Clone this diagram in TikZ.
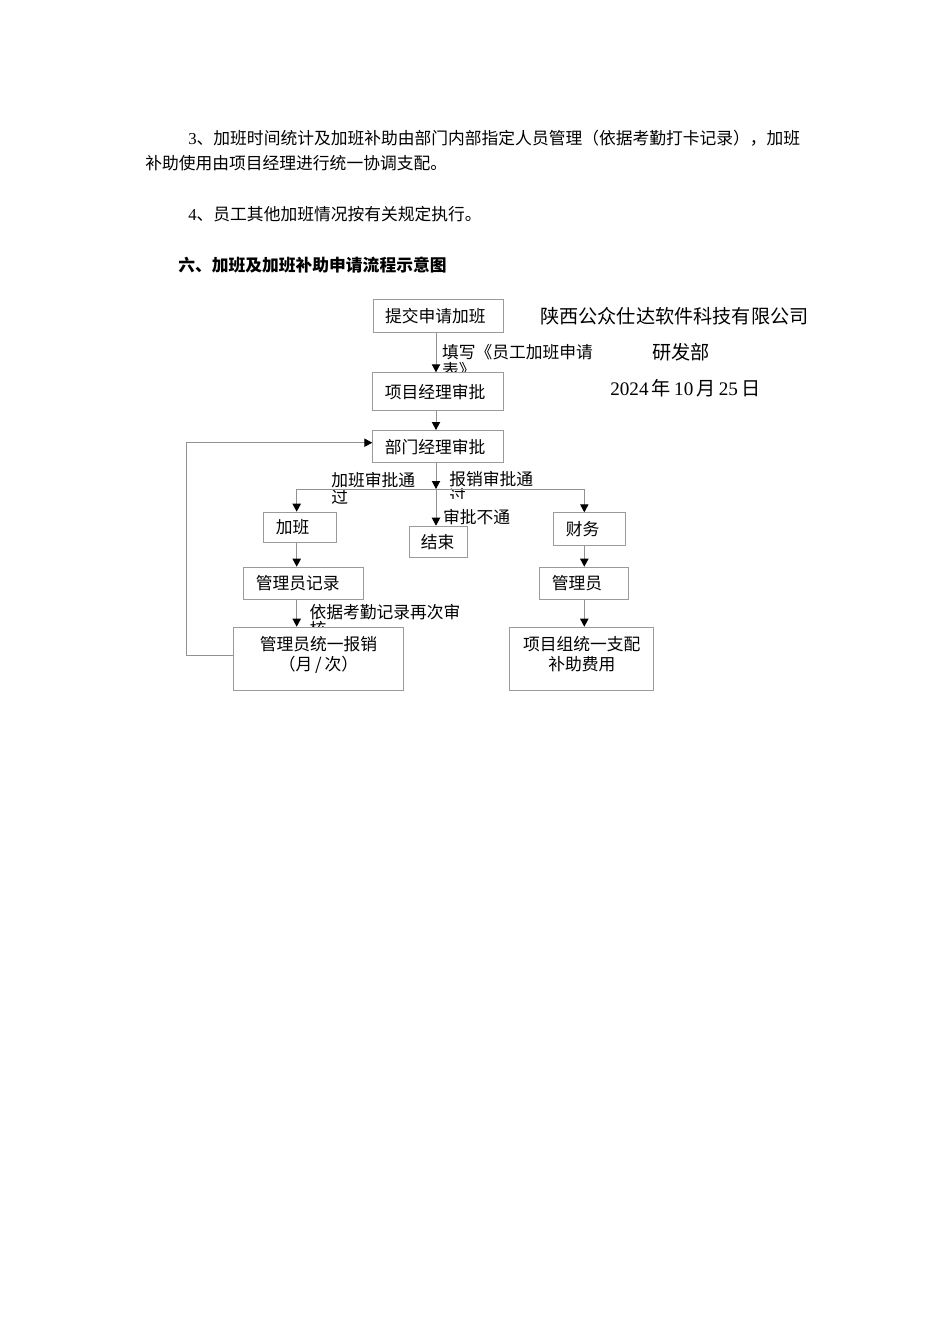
\documentclass[tikz,border=0pt]{standalone}
\usepackage{fontspec}
\setmainfont{Liberation Serif}
\newfontfamily\cjk{Noto Sans CJK SC}
\usetikzlibrary{arrows.meta}
\definecolor{boxgray}{RGB}{155,155,155}
\definecolor{linegray}{RGB}{145,145,145}
\tikzset{
  flowbox/.style={draw=boxgray, line width=0.6pt, fill=white, anchor=north west,
    font=\cjk\fontsize{10.5}{12.5}\selectfont, inner ysep=0pt, inner xsep=7.5pt, align=left},
  boxtext/.style={font=\cjk\fontsize{10.5}{12.5}\selectfont, inner sep=0pt},
  lbl/.style={font=\cjk\fontsize{10.5}{12.5}\selectfont, inner sep=0pt, anchor=base west},
  bodytext/.style={font=\fontsize{10.5}{12.5}\selectfont, inner sep=0pt, anchor=west},
  headtext/.style={font=\fontsize{12}{14}\selectfont, inner sep=0pt, anchor=west},
  flowline/.style={draw=linegray, line width=0.6pt},
  flowarrow/.style={flowline, -{Triangle[width=5.2pt,length=5pt,color=black]}}
}
\begin{document}
\begin{tikzpicture}[x=0.6263pt,y=-0.6263pt]
\useasboundingbox[fill=white] (0,0) rectangle (950,1344);

% body text
\node[bodytext] (p1) at (188,138) {3{\cjk 、加班时间统计及加班补助由部门内部指定人员管理（依据考勤打卡记录），加班}};
\node[bodytext] (p2) at (145,163) {{\cjk 补助使用由项目经理进行统一协调支配。}};
\node[bodytext] (p3) at (188,214) {4{\cjk 、员工其他加班情况按有关规定执行。}};
\node[bodytext] (p4) at (178,265) {{\cjk\bfseries 六、加班及加班补助申请流程示意图}};

% company header
\node[headtext] (c1) at (540,316) {{\cjk 陕西公众仕达软件科技有限公司}};
\node[headtext] (c2) at (652,352) {{\cjk 研发部}};
\node[headtext] (c3) at (610,388) {2024\,{\cjk 年}\,10\,{\cjk 月}\,25\,{\cjk 日}};

% connector labels (drawn before boxes so boxes hide overflow)
\node[lbl] (l1a) at (441.7,358.7) {填写《员工加班申请};
\node[lbl] (l1b) at (441.7,376.2) {表》};
\node[lbl] (l2a) at (331,486.4) {加班审批通};
\node[lbl] (l2b) at (331,503.9) {过};
\node[lbl] (l3a) at (449,485.4) {报销审批通};
\begin{scope}
  \clip (440,480) rectangle (540,498.3);
  \node[lbl] (l3b) at (449,502.9) {过};
\end{scope}
\node[lbl] (l4) at (442.7,523.1) {审批不通};
\node[lbl] (l5a) at (309.3,618.1) {依据考勤记录再次审};
\node[lbl] (l5b) at (309.3,635.6) {核};

% boxes
\node[flowbox, text width=66.8pt, minimum height=20.9pt] (b1) at (372.7,299) {提交申请加班};
\node[flowbox, text width=66.8pt, minimum height=23.6pt] (b2) at (372.3,372.3) {项目经理审批};
\node[flowbox, text width=66.8pt, minimum height=20.2pt] (b3) at (372.3,430) {部门经理审批};
\node[flowbox, text width=30.5pt, minimum height=18.8pt] (b4) at (263.3,511.7) {加班};
\node[flowbox, inner xsep=7pt, text width=22.3pt, minimum height=19.8pt] (b5) at (409.3,525.7) {结束};
\node[flowbox, text width=30.1pt, minimum height=20.5pt] (b6) at (553.3,512.3) {财务};
\node[flowbox, text width=59.8pt, minimum height=20.2pt] (b7) at (243.3,566.7) {管理员记录};
\node[flowbox, text width=40.4pt, minimum height=20.4pt] (b8) at (539.3,566.7) {管理员};
\node[flowbox, inner sep=0pt, minimum width=106.1pt, minimum height=39.6pt] (b9) at (233.3,626.7) {};
\node[flowbox, inner sep=0pt, minimum width=90.2pt, minimum height=39.6pt] (b10) at (509.3,626.7) {};
\node[boxtext, anchor=north, align=center] (t9) at ([yshift=-6pt]b9.north) {管理员统一报销\\（月\,/\,次）};
\node[boxtext, anchor=north, align=center] (t10) at ([yshift=-6pt]b10.north) {项目组统一支配\\补助费用};

% junction coordinates
\coordinate (j) at (436,489);
\coordinate (jl) at (296.7,489);
\coordinate (jr) at (584.3,489);
\coordinate (fbl) at (186.7,655);
\coordinate (fbt) at (186.7,442.7);

% connectors
\draw[flowarrow] (b1.south -| j) -- (b2.north -| j);
\draw[flowarrow] (b2.south -| j) -- (b3.north -| j);
\draw[flowline] (jl) -- (jr);
\draw[flowarrow] (b3.south -| j) -- (j);
\draw[flowarrow] (j) -- (b5.north -| j);
\draw[flowarrow] (jl) -- (b4.north -| jl);
\draw[flowarrow] (jr) -- (b6.north -| jr);
\draw[flowarrow] (b4.south -| jl) -- (b7.north -| jl);
\draw[flowarrow] (b7.south -| jl) -- (b9.north -| jl);
\draw[flowarrow] (b6.south -| jr) -- (b8.north -| jr);
\draw[flowarrow] (b8.south -| jr) -- (b10.north -| jr);
\draw[flowarrow] (b9.west |- fbl) -- (fbl) -- (fbt) -- (b3.west |- fbt);
\end{tikzpicture}
\end{document}
